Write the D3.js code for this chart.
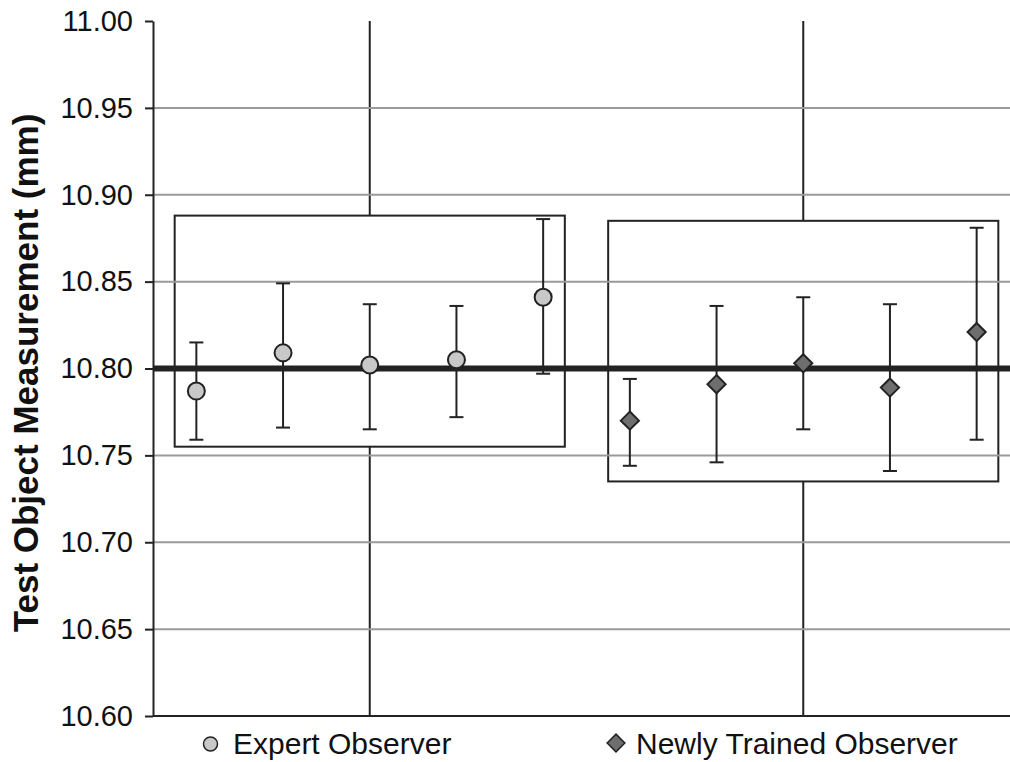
<!DOCTYPE html>
<html>
<head>
<meta charset="utf-8">
<script src="https://cdn.jsdelivr.net/npm/d3@7"></script>
<style>
  html, body { margin: 0; padding: 0; background: #fff; }
  svg { display: block; }
  svg text { font-family: Arial, "Liberation Sans", Helvetica, sans-serif; }
</style>
</head>
<body>
<svg id="chart" width="1010" height="762"></svg>
<script>
// ---- data ----
const seriesNames = ["Expert Observer", "Newly Trained Observer"];
const expertMean = [10.787, 10.809, 10.802, 10.805, 10.841];
const expertHigh = [10.815, 10.849, 10.837, 10.836, 10.886];
const expertLow  = [10.759, 10.766, 10.765, 10.772, 10.797];
const newlyMean  = [10.770, 10.791, 10.803, 10.789, 10.821];
const newlyHigh  = [10.794, 10.836, 10.841, 10.837, 10.881];
const newlyLow   = [10.744, 10.746, 10.765, 10.741, 10.759];
const referenceValue = 10.80;
const groupBoxLow  = [10.755, 10.735];
const groupBoxHigh = [10.888, 10.885];
const yTicks = [10.60, 10.65, 10.70, 10.75, 10.80, 10.85, 10.90, 10.95, 11.00];
const yTitle = "Test Object Measurement (mm)";

// ---- layout ----
const svg = d3.select("#chart");
const plotL = 153, plotR = 1020, plotT = 21, plotB = 716;
const x = d3.scaleLinear().domain([-0.5, 9.5]).range([plotL, plotR]);
const y = d3.scaleLinear().domain([10.6, 11.0]).range([plotB, plotT]);
const dark = "#222";

const expert = expertMean.map((m, i) => ({i: i, m: m, hi: expertHigh[i], lo: expertLow[i]}));
const newly = newlyMean.map((m, i) => ({i: i + 5, m: m, hi: newlyHigh[i], lo: newlyLow[i]}));

// vertical category lines
svg.selectAll("line.vline").data([2, 7]).join("line")
  .attr("x1", d => x(d)).attr("x2", d => x(d))
  .attr("y1", y(11.0)).attr("y2", y(10.6))
  .attr("stroke", dark).attr("stroke-width", 2);

// group boxes (white fill)
svg.selectAll("rect.box").data([0, 1]).join("rect")
  .attr("x", g => x(g * 5 - 0.25))
  .attr("width", x(4.25) - x(-0.25))
  .attr("y", g => y(groupBoxHigh[g]))
  .attr("height", g => y(groupBoxLow[g]) - y(groupBoxHigh[g]))
  .attr("fill", "#fff").attr("stroke", dark).attr("stroke-width", 2);

// horizontal gridlines
svg.selectAll("line.grid").data(yTicks.filter(t => t > 10.6 && t < 11.0)).join("line")
  .attr("x1", plotL).attr("x2", 1010)
  .attr("y1", d => y(d)).attr("y2", d => y(d))
  .attr("stroke", "#9a9a9a").attr("stroke-width", 2);

// y axis
const yAxis = d3.axisLeft(y).tickValues(yTicks).tickFormat(d3.format(".2f")).tickSize(8).tickSizeOuter(0);
const gy = svg.append("g").attr("transform", `translate(${plotL},0)`).call(yAxis);
gy.attr("font-family", null).attr("font-size", null);
gy.select(".domain").attr("stroke", dark).attr("stroke-width", 2);
gy.selectAll(".tick line").attr("stroke", dark).attr("stroke-width", 2);
gy.selectAll(".tick text").attr("x", -20).attr("font-size", 29).attr("fill", "#111");

// x axis baseline
svg.append("line").attr("x1", plotL).attr("x2", 1010)
  .attr("y1", y(10.6)).attr("y2", y(10.6))
  .attr("stroke", dark).attr("stroke-width", 2);

// reference line
svg.append("line").attr("x1", plotL).attr("x2", 1010)
  .attr("y1", y(referenceValue)).attr("y2", y(referenceValue))
  .attr("stroke", dark).attr("stroke-width", 6);

// error bars
const all = expert.concat(newly);
const eb = svg.append("g");
eb.selectAll("line.stem").data(all).join("line")
  .attr("x1", d => x(d.i)).attr("x2", d => x(d.i))
  .attr("y1", d => y(d.hi)).attr("y2", d => y(d.lo))
  .attr("stroke", dark).attr("stroke-width", 2);
["hi", "lo"].forEach(k => {
  eb.append("g").selectAll("line").data(all).join("line")
    .attr("x1", d => x(d.i) - 7).attr("x2", d => x(d.i) + 7)
    .attr("y1", d => y(d[k])).attr("y2", d => y(d[k]))
    .attr("stroke", dark).attr("stroke-width", 2);
});

// markers
svg.append("g").selectAll("circle").data(expert).join("circle")
  .attr("cx", d => x(d.i)).attr("cy", d => y(d.m)).attr("r", 8.5)
  .attr("fill", "#c8c8c8").attr("stroke", dark).attr("stroke-width", 2);
const diamond = d3.symbol().type(d3.symbolDiamond2).size(210);
svg.append("g").selectAll("path").data(newly).join("path")
  .attr("d", diamond)
  .attr("transform", d => `translate(${x(d.i)},${y(d.m)})`)
  .attr("fill", "#6e6e6e").attr("stroke", dark).attr("stroke-width", 2);

// y title
svg.append("text")
  .attr("transform", `translate(38,373) rotate(-90)`)
  .attr("text-anchor", "middle")
  .attr("font-size", 35).attr("font-weight", "bold").attr("fill", "#111")
  .text(yTitle);

// legend
const lg = svg.append("g");
lg.append("circle").attr("cx", 210.5).attr("cy", 744).attr("r", 7)
  .attr("fill", "#c8c8c8").attr("stroke", dark).attr("stroke-width", 1.5);
lg.append("text").attr("x", 233).attr("y", 754).attr("font-size", 30).attr("fill", "#111")
  .text(seriesNames[0]);
lg.append("path").attr("d", d3.symbol().type(d3.symbolDiamond2).size(200))
  .attr("transform", "translate(616,743)")
  .attr("fill", "#6e6e6e").attr("stroke", dark).attr("stroke-width", 1.5);
lg.append("text").attr("x", 636).attr("y", 754).attr("font-size", 30).attr("fill", "#111")
  .text(seriesNames[1]);
</script>
</body>
</html>
